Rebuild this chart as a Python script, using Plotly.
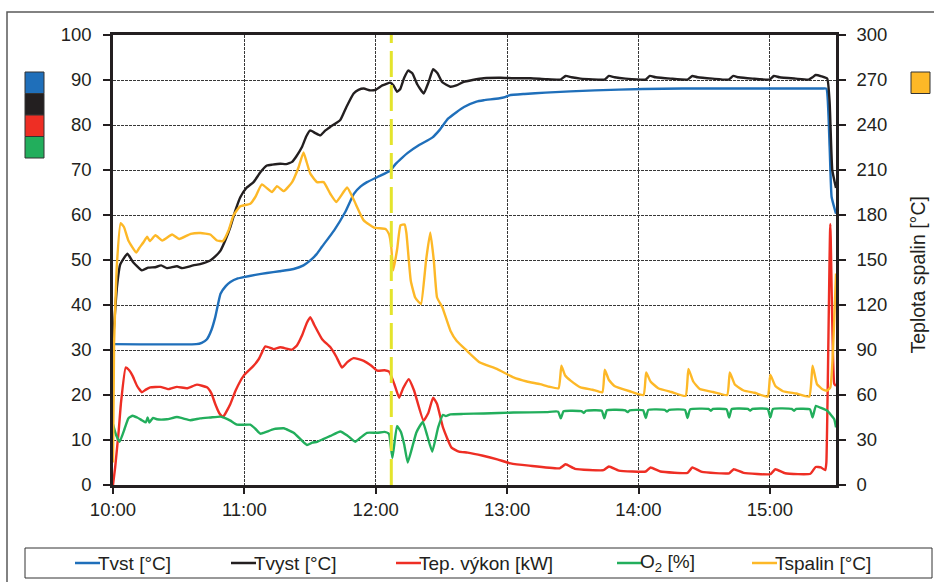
import plotly.graph_objects as go

# ---------------- data (time in minutes after 10:00) ----------------
hour_ticks = [0, 60, 120, 180, 240, 300]
hour_labels = ["10:00", "11:00", "12:00", "13:00", "14:00", "15:00"]
x_end = 330.2
marker_time = 127.1
left_ticks = list(range(0, 101, 10))
right_ticks = list(range(0, 301, 30))

series_names = ["Tvst [°C]", "Tvyst [°C]", "Tep. výkon [kW]", "O<sub>2</sub> [%]", "Tspalin [°C]"]

tvst = [(0, 31.3), (38, 31.3), (40.5, 31.6), (42.9, 32.4), (45, 34.5), (46.7, 37.3), (49.1, 42.5),
        (51.5, 44.2), (53.6, 45.1), (57, 45.9), (59.7, 46.2), (65, 46.7), (70.3, 47.1), (76, 47.5),
        (82.5, 48), (87, 48.8), (90.1, 49.9), (93, 51.3), (95.5, 53), (101, 56.6), (106, 60.6),
        (110, 64.7), (113, 66.3), (116, 67.3), (121, 68.5), (126.7, 69.9), (129, 71.3), (132, 72.7),
        (134.6, 73.8), (140, 75.6), (145.8, 77.2), (149, 78.8), (153, 81.4), (157, 82.9), (160.3, 84),
        (166, 85.2), (169.3, 85.5), (176, 85.9), (179, 86.2), (181, 86.6), (188, 86.9), (197.5, 87.2),
        (220, 87.7), (242, 88), (260, 88.1), (290, 88.1), (320, 88.1), (324, 88.1), (325.8, 88.1),
        (327.3, 75), (328.2, 64), (330.2, 60.3)]

tvyst = [(0, 32), (1.8, 44), (3.3, 49), (6.6, 51.4), (9.2, 49.5), (13.2, 47.7), (16.1, 48.3),
         (19.3, 48.4), (22, 48.8), (24.6, 48.2), (29.2, 48.6), (31.6, 48.2), (33.8, 48.4), (36.6, 48.8),
         (39.8, 49.1), (44.4, 49.9), (46.7, 50.8), (49.1, 52.1), (51.4, 54.5), (53.6, 57.3), (55.9, 61),
         (58.2, 64), (60.9, 66), (64.2, 67.3), (67.3, 69.5), (70.3, 71), (72.8, 71.2), (76.4, 71.4),
         (79.1, 71.3), (81.8, 71.8), (83.7, 73), (86.3, 75.1), (88.3, 77.5), (90.1, 78.8), (92.4, 78.2),
         (94.7, 77.7), (97, 78.8), (99.3, 79.6), (103.8, 81.1), (106.6, 84), (109.9, 87), (112.1, 87.8),
         (114.5, 88.1), (117.5, 87.7), (119.8, 87.8), (123, 88.8), (126.7, 89.4), (128.1, 88.8),
         (129.7, 87.4), (131.2, 88), (133, 90.5), (134.8, 92.1), (136.7, 91.5), (139, 89), (141.9, 87),
         (144.1, 89.5), (146.2, 92.4), (148.2, 91.5), (150.4, 89.5), (154.1, 88.5), (156.8, 88.8),
         (160.2, 89.6), (164.2, 90), (169.3, 90.4), (177, 90.5), (182.9, 90.4), (190.7, 90.4),
         (197.5, 90.2), (204.4, 90.1), (206.7, 90.9), (209.4, 90.6), (213.5, 90.3), (224.5, 90.1),
         (226.5, 90.9), (229.1, 90.6), (234.1, 90.3), (243.2, 90.1), (245.2, 90.9), (247.8, 90.6),
         (254.7, 90.3), (262.4, 90.1), (264.6, 90.9), (267, 90.6), (273.8, 90.3), (281.2, 90.1),
         (283.3, 90.9), (285.7, 90.6), (292.1, 90.3), (299.9, 90.1), (301.8, 90.9), (304.4, 90.6),
         (311.8, 90.3), (317.7, 90.1), (319.5, 90.6), (320.9, 91.1), (323.6, 90.8), (326.2, 90.3),
         (327.3, 85), (328.5, 70), (330.2, 66)]

vykon = [(0, 0), (1, 4), (2.6, 12), (3.6, 18), (5.8, 26.1), (7.4, 25.5), (8.9, 24.3), (11, 22),
         (13.2, 20.6), (15, 21.2), (17, 21.7), (21.6, 21.8), (25.4, 21.3), (29.2, 21.8), (33.8, 21.5),
         (38.3, 22.3), (42.9, 21.7), (45, 20.3), (46.7, 18), (48.5, 16), (50.2, 15.1), (53.6, 18),
         (56, 21), (59.7, 24.3), (64.2, 26.5), (66.6, 28), (69.6, 30.8), (73.4, 30.2), (76.4, 30.6),
         (81.8, 30.1), (84, 31), (86.3, 33.2), (88.5, 36), (90.1, 37.3), (92, 35.5), (95.5, 32.4),
         (99.3, 30.6), (102, 28.5), (104.6, 26.1), (107, 27.3), (109.9, 28.2), (114.5, 27.6),
         (118, 26.5), (120.7, 25.4), (124, 25.5), (126.1, 25.2), (128.5, 22.4), (130.7, 19.4),
         (132.5, 21.5), (135.1, 23.5), (137.5, 21), (141.8, 14.3), (144, 16), (146.2, 19.4),
         (148, 18), (150.7, 12.8), (154.6, 8.3), (158, 7.4), (162, 7.2), (169, 6.5), (175.5, 5.7),
         (181.6, 4.8), (190, 4.3), (204, 3.7), (206.7, 4.6), (211, 3.6), (224, 3.3), (226.5, 4.1),
         (231, 3.2), (243.3, 3.0), (245.5, 3.9), (250, 3.0), (262.4, 2.7), (264.6, 3.9), (269, 2.9),
         (281.4, 2.6), (283.5, 3.5), (288, 2.7), (300.2, 2.4), (302.5, 3.5), (307, 2.6), (318.5, 2.5),
         (320.9, 4.0), (323.3, 3.9), (325.3, 3.3), (325.8, 5), (327.6, 58), (329.4, 22.5), (330.2, 22)]

o2 = [(0, 13.5), (1.5, 11), (3, 9.6), (5.3, 12.5), (7, 14.8), (9, 15.4), (11, 15), (13.2, 14.4),
      (15, 13.9), (15.8, 15), (16.6, 13.9), (18.3, 14.9), (20, 14.6), (24.6, 14.6), (29.2, 15.1),
      (32, 14.8), (35.3, 14.4), (39.8, 14.8), (44.4, 15), (49.1, 15.2), (51.5, 14.8), (53.6, 14.3),
      (56.6, 13.4), (62.7, 13.4), (65, 12.5), (67.3, 11.4), (70, 11.8), (73.4, 12.4), (78, 12.6),
      (82.5, 11.6), (86, 10), (88.6, 8.9), (91, 9.4), (93.2, 9.6), (96, 10.2), (99.3, 10.9),
      (103.8, 11.9), (107, 11), (110.6, 9.6), (113, 10.5), (116, 11.6), (120.7, 11.6), (124, 11.8),
      (126, 11.4), (127.6, 6), (129.7, 13.1), (131.5, 11.8), (133, 9), (134.6, 5), (137, 9),
      (138.5, 11.6), (140, 13), (141.5, 14), (143.5, 11), (145.8, 7.4), (148.5, 12.8), (150.7, 15.6),
      (152, 15.3), (154.1, 15.7), (160, 15.8), (169.3, 15.9), (182.9, 16.1), (198, 16.2),
      (203.3, 16.3), (204.5, 14.8), (205.8, 16.4), (214, 16.4), (215, 16.0), (216, 16.5),
      (223.2, 16.5), (224.4, 14.8), (225.6, 16.6), (234, 16.6), (235, 16.2), (236, 16.6),
      (242.1, 16.6), (243.3, 14.9), (244.5, 16.7), (252, 16.7), (253, 16.3), (254, 16.7),
      (261.2, 16.7), (262.4, 14.9), (263.6, 16.8), (272, 16.9), (273, 16.5), (274, 16.9),
      (280.2, 16.8), (281.4, 15.0), (282.6, 16.9), (290, 16.9), (291, 16.5), (292, 16.9),
      (299, 16.9), (300.2, 15.0), (301.4, 16.9), (310, 16.9), (311, 16.5), (312, 16.9),
      (318.3, 16.8), (319.5, 15.0), (321, 17.6), (323, 17.2), (326.2, 16.5), (328, 15.5),
      (329.4, 14.6), (330.2, 12.8)]

tspalin = [(0, 15), (0.5, 95), (1.7, 145), (3.5, 174.6), (5, 172), (7, 163), (10.6, 155), (12, 158),
           (14, 162), (15.6, 165.6), (16.8, 162.6), (19.4, 166.5), (22.5, 163), (27, 167), (30.2, 164),
           (35.5, 167.4), (40, 168), (44.4, 167), (47.5, 163), (50.2, 162.6), (52.8, 169.8),
           (55, 179.7), (58, 185.7), (62.7, 187.5), (65, 192), (68, 200.4), (72.6, 195.3),
           (74.9, 199.2), (78, 195.9), (81.8, 201.9), (84.8, 212), (87, 221.7), (88.5, 215),
           (90.1, 207.6), (93.2, 201.9), (96.2, 201.9), (99.3, 194), (102, 188.7), (106.9, 198.3),
           (110, 190), (114.5, 176.4), (119.2, 171.6), (124.5, 170.7), (126, 167.4), (127, 160),
           (128, 143.1), (129.8, 157.5), (131.3, 173.1), (133.2, 173.7), (134, 168), (136, 136.2),
           (138, 125), (139.6, 122), (140.7, 120.6), (143, 150), (144.9, 168.3), (146.5, 150),
           (148, 125), (150.4, 118.5), (154.1, 102.9), (157, 96), (161.7, 89.4), (167.6, 81.6),
           (175.3, 77.4), (182.9, 71.7), (189, 69), (195, 67.2), (199.2, 65.5), (203.5, 64.5),
           (204.8, 79.5), (206.5, 73), (209, 69.6), (213.5, 65.1), (219, 63.5), (223.5, 61.8),
           (224.6, 76.8), (226.5, 70), (229, 66), (236, 62.5), (242.3, 60), (243.5, 75), (245.5, 69),
           (249, 64.5), (255, 62), (261.5, 59.4), (262.8, 77.4), (265, 69), (268, 64), (274, 62),
           (280.5, 60), (281.7, 75), (284, 67), (288, 63), (293, 61.5), (299, 59), (300.2, 73.5),
           (302.5, 66), (306, 62.5), (312, 61), (318, 59), (319.5, 79.5), (321.5, 67.3),
           (323.8, 64), (326, 62.8), (327.6, 65), (328.9, 91.7), (330.2, 141)]

colors = ["#1F6FBA", "#231F20", "#EE2E24", "#22AE5C", "#FDB827"]
yellow = "#E4E42C"

# ---------------- geometry helpers (page pixels -> paper) ----------------
W, H = 934, 582
ML, MR, MT, MB = 113, 98, 35, 97
PW, PH = W - ML - MR, H - MT - MB


def px(x):
    return (x - ML) / PW


def py(y):
    return (H - MB - y) / PH


FONT = "Liberation Sans, Arial, Helvetica, sans-serif"
TXT = "#231F20"
FS = 18.5

fig = go.Figure()
data = [tvst, tvyst, vykon, o2, tspalin]
for i, s in enumerate(data):
    fig.add_trace(go.Scatter(
        x=[p[0] for p in s], y=[p[1] for p in s], mode="lines",
        line=dict(color=colors[i], width=2.4, shape="spline", smoothing=0.4),
        yaxis="y2" if i == 4 else "y", showlegend=False, name=series_names[i]))

shapes = []
# yellow dashed marker line
shapes.append(dict(type="line", xref="x", yref="y", x0=marker_time, x1=marker_time, y0=0, y1=100,
                   line=dict(color=yellow, width=3, dash="26px,8px"), layer="above"))
# outer frame
shapes.append(dict(type="rect", xref="paper", yref="paper", x0=px(7), x1=px(960), y0=py(12), y1=py(620),
                   line=dict(color="#5a5a5a", width=1.5)))
# left colour keys
key_y = [72, 93.5, 115, 136.5, 158]
for i in range(4):
    shapes.append(dict(type="rect", xref="paper", yref="paper", x0=px(25), x1=px(44),
                       y0=py(key_y[i + 1]), y1=py(key_y[i]), fillcolor=colors[i],
                       line=dict(color="#333333", width=1)))
# right colour key
shapes.append(dict(type="rect", xref="paper", yref="paper", x0=px(911), x1=px(930),
                   y0=py(93.5), y1=py(72), fillcolor=colors[4], line=dict(color="#333333", width=1)))
# legend box
shapes.append(dict(type="rect", xref="paper", yref="paper", x0=px(25), x1=px(932), y0=py(578), y1=py(548),
                   line=dict(color="#333333", width=1)))
leg_x = [75, 231, 396, 617, 752]
annotations = []
for i in range(5):
    shapes.append(dict(type="line", xref="paper", yref="paper", x0=px(leg_x[i]), x1=px(leg_x[i] + 25),
                       y0=py(563), y1=py(563), line=dict(color=colors[i], width=2.5)))
    annotations.append(dict(xref="paper", yref="paper", x=px(leg_x[i] + 24), y=py(563),
                            text=series_names[i], showarrow=False, xanchor="left", yanchor="middle",
                            xshift=-3, font=dict(family=FONT, size=19, color=TXT)))

annotations.append(dict(xref="paper", yref="paper", x=px(917.5), y=py(275), text="Teplota spalin [°C]",
                        textangle=-90, showarrow=False, xanchor="center", yanchor="middle",
                        font=dict(family=FONT, size=19.5, color=TXT)))

grid = dict(showgrid=True, gridcolor="#383838", gridwidth=1, griddash="3px,1px")
fig.update_layout(
    width=W, height=H, margin=dict(l=ML, r=MR, t=MT, b=MB, pad=0),
    paper_bgcolor="white", plot_bgcolor="white",
    font=dict(family=FONT, size=FS, color=TXT),
    xaxis=dict(range=[0, x_end], tickvals=hour_ticks, ticktext=hour_labels, zeroline=False,
               showline=True, linecolor=TXT, linewidth=2.5, mirror=True,
               ticks="outside", ticklen=6, tickwidth=1.5, tickcolor=TXT, ticklabelstandoff=0, **grid),
    yaxis=dict(range=[0, 100], tickvals=left_ticks, zeroline=False,
               showline=True, linecolor=TXT, linewidth=2.5, mirror=True,
               ticks="outside", ticklen=7, tickwidth=1.5, tickcolor=TXT, ticklabelstandoff=8, **grid),
    yaxis2=dict(range=[0, 300], tickvals=right_ticks, overlaying="y", side="right", showgrid=False,
                zeroline=False, showline=True, linecolor=TXT, linewidth=2.5,
                ticks="outside", ticklen=7, tickwidth=1.5, tickcolor=TXT, ticklabelstandoff=7),
    shapes=shapes, annotations=annotations, showlegend=False,
)

# remove the browser's default 8px body margin so the figure sits at the page origin
fig.write_html("out.html", config={"displayModeBar": False},
               post_script="document.body.style.margin='0px';document.body.style.overflow='hidden';")
